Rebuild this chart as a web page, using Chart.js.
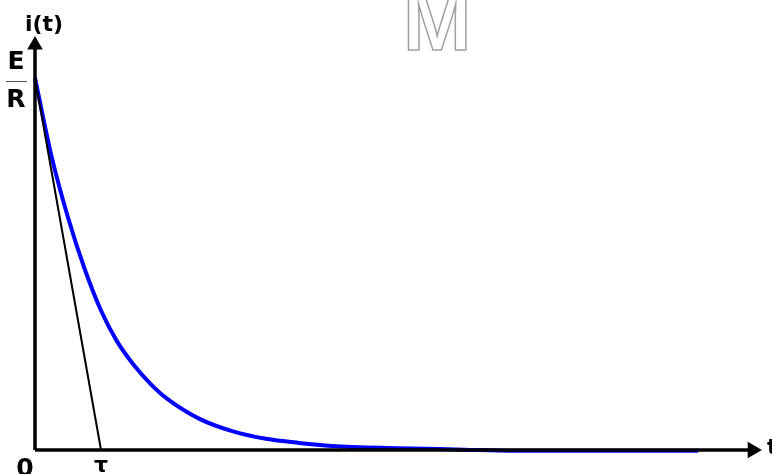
<!DOCTYPE html>
<html lang="en">
<head>
  <meta charset="UTF-8">
  <title>i(t)</title>
  <script src="https://cdn.jsdelivr.net/npm/chart.js"></script>
  <style>
    html, body { margin: 0; padding: 0; background: #fff; overflow: hidden; }
    #wrap { width: 772px; height: 474px; }
  </style>
</head>
<body>
  <div id="wrap"><canvas id="chart"></canvas></div>
  <script>
    // time in units of tau, current in units of E/R
    const times = [0, 0.25, 0.5, 0.75, 1, 1.25, 1.5, 1.75, 2, 2.5, 3, 3.5, 4, 4.5, 5.5, 6.5, 7.2, 10.05];
    const current = [1, 0.79, 0.625, 0.488, 0.375, 0.29, 0.228, 0.178, 0.138, 0.083, 0.05, 0.03, 0.019, 0.011, 0.005, 0.001, -0.002, -0.002];
    const tangentT = [0, 1];
    const tangentI = [1, 0];
    const xAxisEnd = 10.87;
    const yAxisEnd = 1.089;

    const toPoints = (xs, ys) => xs.map((x, i) => ({ x, y: ys[i] }));

    const labels = {
      id: 'labels',
      afterDraw(chart) {
        const { ctx, scales: { x, y } } = chart;
        ctx.save();
        ctx.fillStyle = '#000';
        ctx.textAlign = 'center';
        ctx.textBaseline = 'middle';
        ctx.font = 'bold 22px "DejaVu Sans"';
        ctx.fillText('i(t)', 44, 25);
        ctx.fillText('τ', x.getPixelForValue(1), 466);
        ctx.font = 'bold 25px "DejaVu Sans"';
        ctx.fillText('E', 16, 62);
        ctx.fillText('R', 16, 100);
        ctx.fillText('0', 25, 469);
        ctx.fillStyle = '#555';
        ctx.fillRect(6, y.getPixelForValue(1) + 3, 21, 1);
        ctx.fillStyle = '#000';
        ctx.textAlign = 'left';
        ctx.font = 'bold 21px "DejaVu Sans"';
        ctx.fillText('t', 767, 449);
        // watermark
        ctx.font = 'bold 82px "Liberation Sans"';
        ctx.strokeStyle = '#a0a0a0';
        ctx.lineWidth = 1.5;
        ctx.textBaseline = 'alphabetic';
        ctx.strokeText('M', 403, 50);
        ctx.restore();
      }
    };

    new Chart(document.getElementById('chart'), {
      type: 'scatter',
      data: {
        datasets: [
          {
            data: [{ x: 0, y: 0 }, { x: 0, y: yAxisEnd }],
            showLine: true,
            borderColor: '#000',
            borderWidth: 3.5,
            pointRadius: [0, 9],
            pointStyle: 'triangle',
            pointBackgroundColor: '#000',
            pointBorderWidth: 0
          },
          {
            data: [{ x: 0, y: 0 }, { x: xAxisEnd, y: 0 }],
            showLine: true,
            borderColor: '#000',
            borderWidth: 3.5,
            pointRadius: [0, 9.5],
            pointStyle: 'triangle',
            rotation: 90,
            pointBackgroundColor: '#000',
            pointBorderWidth: 0
          },
          {
            data: toPoints(tangentT, tangentI),
            showLine: true,
            borderColor: '#000',
            borderWidth: 2,
            pointRadius: 0
          },
          {
            data: toPoints(times, current),
            showLine: true,
            borderColor: '#0000ff',
            borderWidth: 4,
            pointRadius: 0,
            cubicInterpolationMode: 'monotone'
          }
        ]
      },
      options: {
        responsive: true,
        maintainAspectRatio: false,
        animation: false,
        layout: { padding: 0, autoPadding: false },
        plugins: { legend: { display: false }, tooltip: { enabled: false } },
        scales: {
          x: { type: 'linear', display: false, min: -35 / 66, max: 737 / 66 },
          y: { type: 'linear', display: false, min: -24 / 372, max: 450 / 372 }
        }
      },
      plugins: [labels]
    });
  </script>
</body>
</html>
